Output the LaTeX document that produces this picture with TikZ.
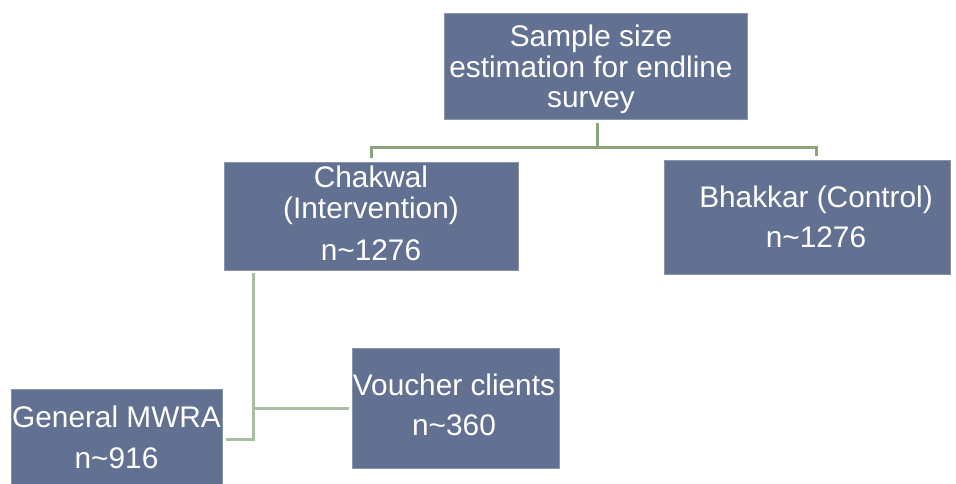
\documentclass[tikz,border=0pt]{standalone}
\usepackage{fontspec}
\setmainfont{Liberation Sans}
\definecolor{boxblue}{HTML}{627191}
\definecolor{lineA}{HTML}{8AA57B}
\definecolor{lineB}{HTML}{A9BEA2}
\begin{document}
\begin{tikzpicture}[x=1pt,y=-1pt,
  box/.style={fill=boxblue, draw=boxblue!75!white, line width=0.6pt, inner sep=0pt, outer sep=0pt},
  txt/.style={text=white, align=center, inner sep=0pt, font=\fontsize{29.8}{30.5}\selectfont},
  connA/.style={draw=lineA, line width=3pt},
  connB/.style={draw=lineB, line width=3pt}]
\useasboundingbox (0,0) rectangle (956,483);
\clip (0,0) rectangle (956,483);
% boxes
\node[box, minimum width=303pt, minimum height=106pt] (top) at (595.5,66) {};
\node[box, minimum width=294pt, minimum height=108pt] (chak) at (371,216) {};
\node[box, minimum width=286pt, minimum height=114pt] (bhak) at (807,217) {};
\node[box, minimum width=207pt, minimum height=120pt] (vouch) at (455.5,408) {};
\node[box, minimum width=211pt, minimum height=101pt] (gen) at (116.5,439.5) {};
% texts
\node[txt] (toptxt) at (591,69.5) {Sample size\\estimation for endline\\survey};
\node[txt] (chaktxt) at (371,213.5) {Chakwal\\(Intervention)\\[11.5pt]n\textasciitilde1276};
\node[txt] (bhaktxt) at (816,216.5) {Bhakkar (Control)\\[9.5pt]n\textasciitilde1276};
\node[txt] (vouchtxt) at (454,404.5) {Voucher clients\\[9.5pt]n\textasciitilde360};
\node[txt] (gentxt) at (116.5,437) {General MWRA\\[10.5pt]n\textasciitilde916};
% connectors
\coordinate (j1) at (597,147);
\coordinate (j2) at (253,408);
\draw[connA] ([xshift=1.5pt,yshift=-4pt]top.south) -- (j1);
\draw[connA] ([yshift=4pt]chak.north) |- (j1) -| ([xshift=9pt,yshift=4pt]bhak.north);
\draw[connB] ([xshift=29pt,yshift=-3pt]chak.south west) |- ([xshift=4pt]gen.east);
\draw[connB] (j2) -- ([xshift=-3pt]vouch.west);
\end{tikzpicture}
\end{document}
